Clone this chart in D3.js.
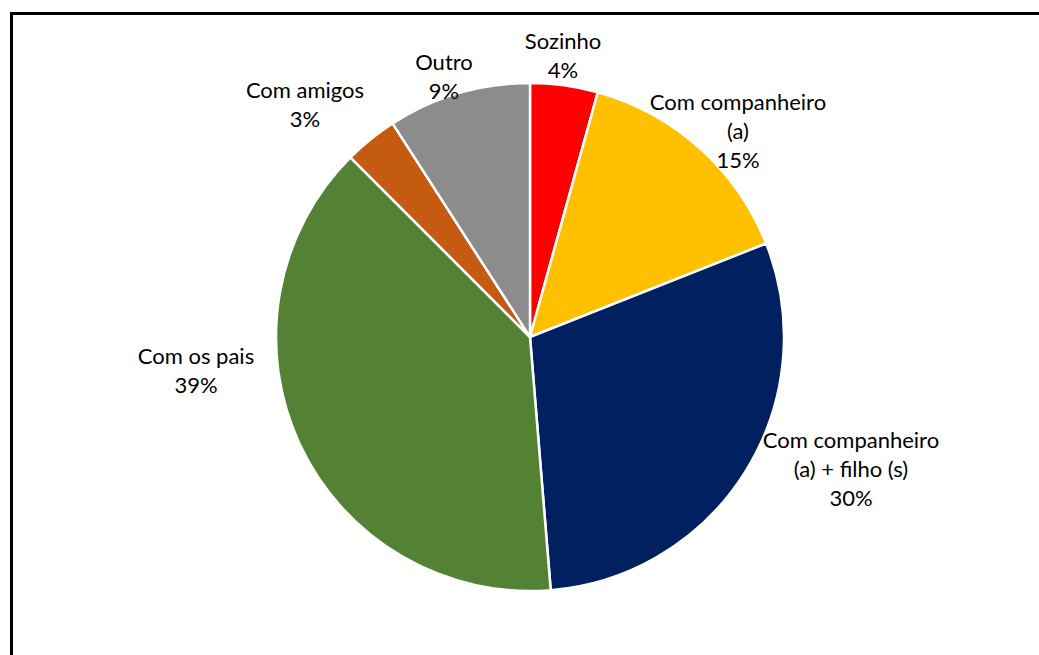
<!DOCTYPE html>
<html>
<head>
<meta charset="utf-8">
<script src="https://cdn.jsdelivr.net/npm/d3@7"></script>
<style>
  html, body { margin: 0; padding: 0; background: #fff; }
  svg { display: block; }
</style>
</head>
<body>
<svg id="chart" width="1039" height="655"></svg>
<script>
// Living arrangement shares (percent)
const categories = ["Sozinho", "Com companheiro (a)", "Com companheiro (a) + filho (s)", "Com os pais", "Com amigos", "Outro"];
const values = [4.3, 14.7, 29.7, 38.8, 3.4, 9.1];
const labelLines = [
  ["Sozinho"],
  ["Com companheiro", "(a)"],
  ["Com companheiro", "(a) + filho (s)"],
  ["Com os pais"],
  ["Com amigos"],
  ["Outro"]
];
const colors = ["#FF0000", "#FFC000", "#002060", "#548235", "#C55A11", "#8C8C8C"];

// Label block centres (first line), one per category
const labelAnchor = [
  [563, 40], [738, 101], [851, 439], [196, 355], [305, 89], [444, 61]
];

const svg = d3.select("#chart");
const W = 1039, H = 655;

// outer frame
svg.append("rect")
  .attr("x", 11.5).attr("y", 13.5)
  .attr("width", W + 20).attr("height", H + 20)
  .attr("fill", "#fff").attr("stroke", "#000").attr("stroke-width", 3);

const cx = 530, cy = 337, r = 254;
const data = categories.map((c, i) => ({ name: c, value: values[i], i }));

const pie = d3.pie().sort(null).value(d => d.value);
const arc = d3.arc().innerRadius(0).outerRadius(r);

const g = svg.append("g").attr("transform", `translate(${cx},${cy})`);
g.selectAll("path")
  .data(pie(data))
  .join("path")
  .attr("d", arc)
  .attr("fill", d => colors[d.data.i])
  .attr("stroke", "#fff")
  .attr("stroke-width", 2.5)
  .attr("stroke-linejoin", "round");

const lineH = 29;
const labels = svg.append("g")
  .attr("font-family", "Lato, 'Open Sans', sans-serif")
  .attr("font-size", 22)
  .attr("fill", "#000")
  .attr("text-anchor", "middle");

data.forEach((d, i) => {
  const lines = labelLines[i].concat([Math.round(d.value) + "%"]);
  const [lx, ly] = labelAnchor[i];
  const t = labels.append("text");
  lines.forEach((s, k) => {
    t.append("tspan")
      .attr("x", lx)
      .attr("y", ly + k * lineH)
      .attr("dominant-baseline", "central")
      .text(s);
  });
});
</script>
</body>
</html>
